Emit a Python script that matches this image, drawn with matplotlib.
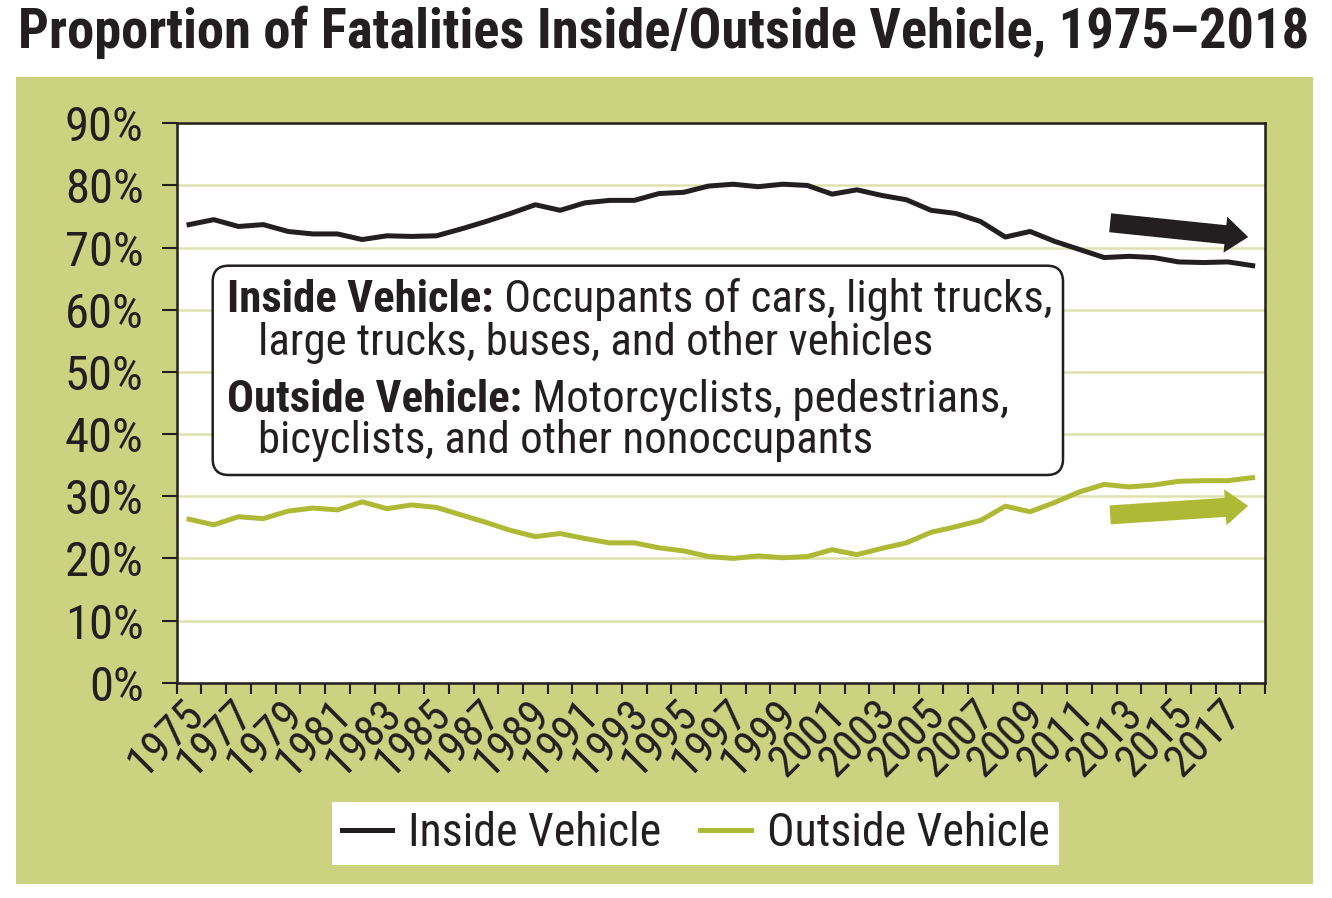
import matplotlib
matplotlib.use("Agg")
import matplotlib.pyplot as plt
from matplotlib import font_manager
from matplotlib.patches import Rectangle, FancyBboxPatch, FancyArrowPatch, ArrowStyle
from matplotlib.lines import Line2D
import matplotlib.transforms as mtransforms

years = list(range(1975, 2019))
inside = [73.7, 74.5, 73.4, 73.7, 72.6, 72.2, 72.2, 71.3, 71.9, 71.8,
          71.9, 73.0, 74.2, 75.5, 76.9, 76.0, 77.2, 77.6, 77.6, 78.7,
          78.9, 79.9, 80.2, 79.8, 80.2, 80.0, 78.6, 79.3, 78.4, 77.7,
          76.0, 75.5, 74.2, 71.7, 72.6, 71.0, 69.7, 68.4, 68.6, 68.4,
          67.7, 67.6, 67.7, 67.1]
outside = [26.3, 25.4, 26.7, 26.4, 27.6, 28.1, 27.8, 29.1, 28.0, 28.6,
           28.2, 27.0, 25.8, 24.5, 23.5, 24.0, 23.2, 22.5, 22.5, 21.7,
           21.2, 20.3, 20.0, 20.4, 20.1, 20.3, 21.4, 20.6, 21.6, 22.5,
           24.2, 25.1, 26.1, 28.4, 27.5, 29.0, 30.7, 31.9, 31.5, 31.8,
           32.4, 32.5, 32.5, 33.0]
yticks = list(range(0, 100, 10))
series_names = ["Inside Vehicle", "Outside Vehicle"]

BLACK = "#231f20"
GREEN = "#aeba35"
PANEL = "#cdd281"
GRID = "#dfe2ad"

# pick a condensed font if one is around
names = {f.name for f in font_manager.fontManager.ttflist}
stretch = None
family = None
for fam in ["Roboto Condensed", "Liberation Sans Narrow", "Arial Narrow", "Open Sans Condensed"]:
    if fam in names:
        family = fam
        break
if family is None:
    cond = [f for f in font_manager.fontManager.ttflist
            if f.name == "DejaVu Sans" and str(f.stretch) in ("condensed", "semi-condensed")]
    if cond:
        family = "DejaVu Sans"
        stretch = "condensed"
    else:
        family = "Liberation Sans"
plt.rcParams["font.family"] = family
if stretch:
    plt.rcParams["font.stretch"] = stretch

W, H = 1332, 898
fig = plt.figure(figsize=(W / 100, H / 100), dpi=100)
fig.patch.set_facecolor("white")


def fx(x):
    return x / W


def fy(y):
    return 1 - y / H


# green panel behind the chart
fig.add_artist(Rectangle((fx(16), fy(884)), (1313 - 16) / W, (884 - 77) / H,
                         transform=fig.transFigure, facecolor=PANEL,
                         edgecolor="none", zorder=-5))

left, right, top, bottom = 176.7, 1265, 123.3, 682.7
ax = fig.add_axes([fx(left), fy(bottom), (right - left) / W, (bottom - top) / H])
ax.set_facecolor("white")

x = list(range(len(years)))
ax.plot(x, inside, color=BLACK, lw=3.6, solid_joinstyle="round", zorder=3)
ax.plot(x, outside, color=GREEN, lw=3.6, solid_joinstyle="round", zorder=3)

ax.set_xlim(-0.5, len(years) - 0.5)
ax.set_ylim(0, 90)
ax.set_yticks(yticks)
ax.set_yticklabels([f"{v}%" for v in yticks])
ax.yaxis.grid(True, color=GRID, lw=1.8)
ax.set_axisbelow(True)

ax.set_xticks(x[::2])
ax.set_xticklabels([str(y) for y in years[::2]], rotation=45, ha="right",
                   va="top", rotation_mode="anchor")
ax.set_xticks([i - 0.5 for i in range(len(years) + 1)], minor=True)
ax.tick_params(axis="x", which="major", length=0, pad=7, labelsize=32, labelcolor=BLACK)
ax.tick_params(axis="x", which="minor", length=8, width=1.5, color=BLACK, direction="out")
ax.tick_params(axis="y", length=10.8, width=1.5, color=BLACK, pad=13, labelsize=35,
               labelcolor=BLACK)
shift = mtransforms.ScaledTranslation(-7 / 100, 0, fig.dpi_scale_trans)
for lab in ax.get_xticklabels():
    lab.set_transform(lab.get_transform() + shift)
for sp in ax.spines.values():
    sp.set_color(BLACK)
    sp.set_linewidth(1.8)

# trend arrows
for tail, tip, col in [((37.24, 74.0), (42.82, 71.7), BLACK),
                       ((37.24, 27.0), (42.82, 28.45), GREEN)]:
    arr = FancyArrowPatch(tail, tip, arrowstyle=ArrowStyle.Simple(head_length=16.5, head_width=26,
                                                                 tail_width=13.7),
                          mutation_scale=1, color=col, lw=0, shrinkA=0, shrinkB=0, zorder=4)
    ax.add_patch(arr)

# title
title = fig.text(fx(18), fy(48), "Proportion of Fatalities Inside/Outside Vehicle, 1975\u20132018",
                 fontsize=35, fontweight="bold", color=BLACK, va="baseline", ha="left")

# definition box
box = FancyBboxPatch((212.7, H - 475), 1063 - 212.7, 475 - 265.7,
                     boxstyle="round,pad=0,rounding_size=16",
                     transform=mtransforms.IdentityTransform(),
                     facecolor="white", edgecolor=BLACK, lw=1.8, zorder=5)
fig.add_artist(box)

lines = [
    (227, 312, "Inside Vehicle:", " Occupants of cars, light trucks,"),
    (258, 355, None, "large trucks, buses, and other vehicles"),
    (227, 412, "Outside Vehicle:", " Motorcyclists, pedestrians,"),
    (258, 453, None, "bicyclists, and other nonoccupants"),
]
box_texts = []
for lx, ly, bold, rest in lines:
    if bold:
        t1 = fig.text(fx(lx), fy(ly), bold, fontsize=32, fontweight="bold", color=BLACK,
                      va="baseline", zorder=6)
        t2 = fig.text(0, 0, rest, fontsize=32, color=BLACK, zorder=6)
        box_texts.append((t1, t2))
    else:
        t2 = fig.text(fx(lx), fy(ly), rest, fontsize=32, color=BLACK, va="baseline", zorder=6)
        box_texts.append((None, t2))

renderer = fig.canvas.get_renderer()

# fit title width
tw = title.get_window_extent(renderer).width
title.set_fontsize(title.get_fontsize() * min(1.15, 1292 / tw))


def place_pairs():
    for t1, t2 in box_texts:
        if t1 is not None:
            bb = t1.get_window_extent(renderer)
            t2.set_transform(mtransforms.IdentityTransform())
            t2.set_position((bb.x1, t1.get_transform().transform(t1.get_position())[1]))
            t2.set_va("baseline")


place_pairs()
t1, t2 = box_texts[0]
w = t2.get_window_extent(renderer).x1 - t1.get_window_extent(renderer).x0
scale = min(1.15, 828 / w)
for a, b in box_texts:
    for t in (a, b):
        if t is not None:
            t.set_fontsize(t.get_fontsize() * scale)
place_pairs()

# legend
handles = [Line2D([], [], color=BLACK, lw=3.6), Line2D([], [], color=GREEN, lw=3.6)]
leg = fig.legend(handles, series_names, loc="center",
                 bbox_to_anchor=(fx(695.5), fy(833.5)), ncol=2, fontsize=33,
                 frameon=True, fancybox=False, edgecolor="none", facecolor="white",
                 framealpha=1, handlelength=1.1, handletextpad=0.35, columnspacing=0.85,
                 borderpad=0.2, borderaxespad=0)
for t in leg.get_texts():
    t.set_color(BLACK)

fig.savefig("out.png", dpi=100, facecolor="white")
